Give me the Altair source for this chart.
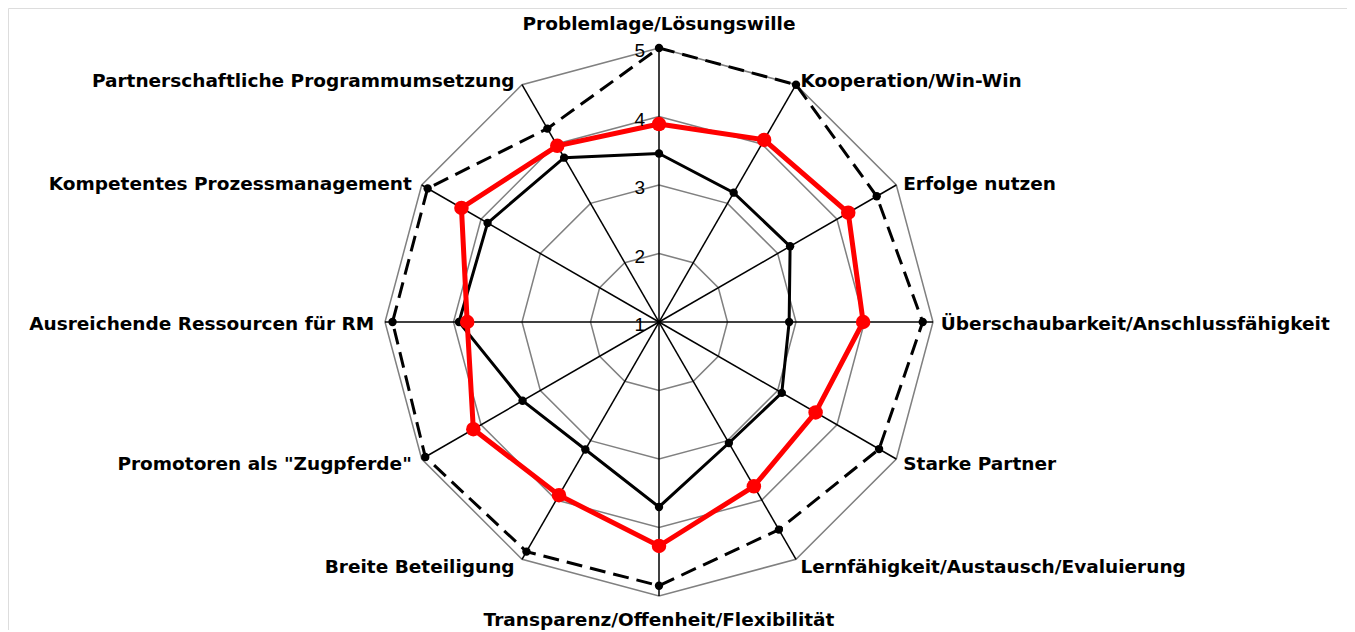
import altair as alt
import pandas as pd

categories = [
    "Problemlage/Lösungswille",
    "Kooperation/Win-Win",
    "Erfolge nutzen",
    "Überschaubarkeit/Anschlussfähigkeit",
    "Starke Partner",
    "Lernfähigkeit/Austausch/Evaluierung",
    "Transparenz/Offenheit/Flexibilität",
    "Breite Beteiligung",
    'Promotoren als "Zugpferde"',
    "Ausreichende Ressourcen für RM",
    "Kompetentes Prozessmanagement",
    "Partnerschaftliche Programmumsetzung",
]
series_dashed = [5.00, 5.00, 4.67, 4.85, 4.71, 4.50, 4.85, 4.87, 4.94, 4.89, 4.90, 4.26]
series_red = [3.89, 4.07, 4.19, 3.98, 3.64, 3.77, 4.27, 3.92, 4.13, 3.80, 4.33, 3.97]
series_black = [3.46, 3.18, 3.21, 2.90, 3.07, 3.04, 3.70, 3.15, 3.30, 3.92, 3.89, 3.77]
ring_levels = [2, 3, 4, 5]
tick_labels = [1, 2, 3, 4, 5]

N = len(categories)


def closed(values, name):
    rows = [{"series": name, "idx": i, "value": v, "ord": i} for i, v in enumerate(values)]
    rows.append({"series": name, "idx": 0, "value": values[0], "ord": N})
    return rows


series_df = pd.DataFrame(
    closed(series_dashed, "dashed") + closed(series_black, "black") + closed(series_red, "red")
)
ring_rows = []
for lv in ring_levels:
    ring_rows += closed([lv] * N, "ring%d" % lv)
ring_df = pd.DataFrame(ring_rows)
spoke_df = pd.DataFrame({"idx": list(range(N)), "value": [max(ring_levels)] * N})
tick_df = pd.DataFrame({"value": tick_labels, "label": [str(t) for t in tick_labels]})
label_df = pd.DataFrame({"idx": list(range(N)), "label": categories})

UNIT = 68.5
W, H = 1339, 622
CX, CY = 651, 314
xs = alt.Scale(domain=[-CX / UNIT, (W - CX) / UNIT], nice=False, zero=False)
ys = alt.Scale(domain=[-(H - CY) / UNIT, CY / UNIT], nice=False, zero=False)
X = lambda f: alt.X(f, type="quantitative", scale=xs, axis=None)
Y = lambda f: alt.Y(f, type="quantitative", scale=ys, axis=None)

polar = dict(
    x="(datum.value - 1) * sin(datum.idx * PI / 6)",
    y="(datum.value - 1) * cos(datum.idx * PI / 6)",
)

rings = (
    alt.Chart(ring_df)
    .transform_calculate(**polar)
    .mark_line(color="#808080", strokeWidth=1.5)
    .encode(x=X("x"), y=Y("y"), detail="series:N", order="ord:Q")
)

spokes = (
    alt.Chart(spoke_df)
    .transform_calculate(**polar)
    .transform_calculate(x0="0", y0="0")
    .mark_rule(color="black", strokeWidth=1.5)
    .encode(x=X("x0"), y=Y("y0"), x2="x:Q", y2="y:Q")
)

tick_text = (
    alt.Chart(tick_df)
    .transform_calculate(x="0", y="datum.value - 1")
    .mark_text(align="right", baseline="middle", dx=-14, dy=3, fontSize=19,
               font="Liberation Sans", color="black")
    .encode(x=X("x"), y=Y("y"), text="label:N")
)


def series_layer(name, color, width, dash=None, size=60):
    d = alt.Chart(series_df).transform_filter(alt.datum.series == name).transform_calculate(**polar)
    kw = dict(color=color, strokeWidth=width)
    if dash:
        kw["strokeDash"] = dash
    line = d.mark_line(**kw).encode(x=X("x"), y=Y("y"), order="ord:Q")
    pts = d.transform_filter(alt.datum.ord < N).mark_circle(color=color, opacity=1, size=size).encode(
        x=X("x"), y=Y("y")
    )
    return line + pts


dashed = series_layer("dashed", "black", 3, dash=[16, 8], size=70)
black = series_layer("black", "black", 3, size=70)
red = series_layer("red", "#ff0000", 5, size=210)

lab_base = alt.Chart(label_df).transform_calculate(
    r="(datum.idx % 6 == 0) ? 4.35 : 4.1",
).transform_calculate(
    x="datum.r * sin(datum.idx * PI / 6)",
    y="datum.r * cos(datum.idx * PI / 6)",
)
tstyle = dict(fontSize=18.5, fontWeight="bold", font="DejaVu Sans", color="black", baseline="middle")
lab_right = lab_base.transform_filter("datum.idx > 0 && datum.idx < 6").mark_text(
    align="left", dx=1, dy=2, **tstyle).encode(x=X("x"), y=Y("y"), text="label:N")
lab_left = lab_base.transform_filter("datum.idx > 6").mark_text(
    align="right", dx=-4, dy=2, **tstyle).encode(x=X("x"), y=Y("y"), text="label:N")
lab_mid = lab_base.transform_filter("datum.idx % 6 == 0").mark_text(
    align="center", **tstyle).encode(x=X("x"), y=Y("y"), text="label:N")

chart = (
    alt.layer(rings, spokes, dashed, black, red, tick_text, lab_right, lab_left, lab_mid)
    .properties(width=W, height=H, padding=0, autosize=alt.AutoSizeParams(type="none"))
    .configure_view(strokeWidth=0, strokeOpacity=0, fill="white")
    .configure(background="white")
)

chart.save("out.html", embed_options={"renderer": "svg", "actions": False})
